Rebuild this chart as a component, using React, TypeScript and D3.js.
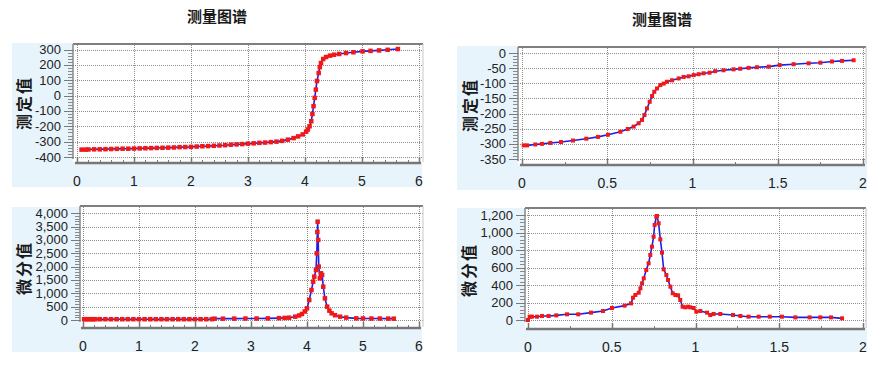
import React, { useEffect, useRef } from 'react';
import * as d3 from 'd3';

// left sample: measured curve (mV vs mL)
const leftVolume = [0.08, 0.15, 0.2, 0.3, 0.4, 0.5, 0.6, 0.7, 0.8, 0.9, 1.0, 1.1, 1.2, 1.3, 1.4, 1.5, 1.6, 1.7, 1.8, 1.9, 2.0, 2.1, 2.2, 2.3, 2.4, 2.5, 2.6, 2.7, 2.8, 2.9, 3.0, 3.1, 3.2, 3.3, 3.4, 3.5, 3.6, 3.7, 3.8, 3.88, 3.96, 4.02, 4.05, 4.08, 4.11, 4.13, 4.15, 4.17, 4.19, 4.21, 4.24, 4.26, 4.28, 4.32, 4.37, 4.44, 4.51, 4.6, 4.72, 4.85, 5.01, 5.15, 5.3, 5.45, 5.63];
const leftMeasured = [-352, -352, -351, -350, -350, -349, -348, -347, -346, -346, -345, -344, -343, -342, -341, -340, -339, -338, -336, -335, -334, -332, -330, -329, -327, -325, -323, -320, -318, -316, -313, -311, -308, -306, -303, -300, -295, -287, -277, -266, -253, -235, -221, -200, -167, -120, -69, -15, 39, 95, 147, 185, 212, 238, 251, 260, 266, 271, 277, 282, 288, 291, 294, 298, 303];

// left sample: differential curve
const leftDiffVolume = [0.02, 0.06, 0.1, 0.14, 0.18, 0.22, 0.3, 0.4, 0.5, 0.6, 0.7, 0.8, 0.9, 1.0, 1.1, 1.2, 1.3, 1.4, 1.5, 1.6, 1.7, 1.8, 1.9, 2.0, 2.1, 2.2, 2.3, 2.35, 2.5, 2.7, 2.9, 3.1, 3.3, 3.5, 3.6, 3.68, 3.79, 3.86, 3.91, 3.96, 4.0, 4.04, 4.08, 4.11, 4.13, 4.16, 4.175, 4.185, 4.19, 4.2, 4.21, 4.23, 4.25, 4.27, 4.29, 4.32, 4.36, 4.4, 4.44, 4.5, 4.59, 4.7, 4.88, 5.0, 5.15, 5.3, 5.45, 5.55];
const leftDiff = [30, 30, 30, 30, 30, 30, 30, 30, 30, 30, 30, 30, 30, 30, 30, 30, 30, 30, 30, 30, 30, 30, 30, 30, 30, 30, 32, 50, 50, 52, 54, 56, 60, 70, 78, 87, 125, 170, 225, 320, 437, 750, 1125, 1437, 1625, 1875, 2500, 3300, 3686, 3000, 2000, 1562, 1750, 1687, 1250, 812, 500, 350, 250, 180, 125, 90, 62, 58, 55, 55, 52, 50];

// right sample: measured curve
const rightVolume = [0.01, 0.03, 0.078, 0.117, 0.166, 0.229, 0.299, 0.377, 0.446, 0.504, 0.577, 0.62, 0.655, 0.684, 0.704, 0.718, 0.733, 0.749, 0.763, 0.776, 0.792, 0.811, 0.831, 0.85, 0.88, 0.919, 0.948, 0.977, 1.007, 1.036, 1.065, 1.1, 1.133, 1.182, 1.241, 1.28, 1.329, 1.378, 1.447, 1.511, 1.593, 1.681, 1.75, 1.818, 1.877, 1.945];
const rightMeasured = [-305, -305, -302, -300, -297, -294, -289, -283, -277, -270, -260, -251, -243, -232, -221, -205, -183, -161, -142, -128, -117, -106, -101, -95, -90, -84, -79, -77, -73, -70, -67, -65, -60, -57, -54, -52, -49, -47, -45, -40, -37, -34, -32, -28, -26, -24];

// right sample: differential curve
const rightDiffVolume = [0, 0.01, 0.024, 0.054, 0.084, 0.123, 0.169, 0.233, 0.3, 0.376, 0.448, 0.501, 0.577, 0.615, 0.627, 0.641, 0.661, 0.671, 0.681, 0.691, 0.706, 0.72, 0.73, 0.74, 0.75, 0.756, 0.766, 0.77, 0.78, 0.79, 0.8, 0.81, 0.826, 0.836, 0.85, 0.864, 0.88, 0.896, 0.909, 0.923, 0.939, 0.955, 0.969, 0.989, 1.005, 1.029, 1.069, 1.088, 1.108, 1.148, 1.224, 1.268, 1.317, 1.377, 1.443, 1.516, 1.596, 1.681, 1.745, 1.809, 1.875];
const rightDiff = [0, 38, 38, 38, 46, 46, 53, 65, 65, 84, 103, 137, 164, 190, 255, 286, 312, 362, 419, 476, 571, 648, 743, 838, 952, 1086, 1181, 1189, 1105, 922, 770, 579, 514, 457, 381, 305, 286, 282, 229, 152, 145, 152, 145, 137, 95, 103, 84, 57, 69, 69, 57, 46, 38, 38, 38, 38, 30, 30, 30, 30, 19];

// tick values
const leftXTicks = [0, 1, 2, 3, 4, 5, 6];
const rightXTicks = [0, 0.5, 1, 1.5, 2];
const leftMeasuredTicks = [300, 200, 100, 0, -100, -200, -300, -400];
const leftDiffTicks = [0, 500, 1000, 1500, 2000, 2500, 3000, 3500, 4000];
const rightMeasuredTicks = [0, -50, -100, -150, -200, -250, -300, -350];
const rightDiffTicks = [0, 200, 400, 600, 800, 1000, 1200];

const chartTitle = '测量图谱';
const measuredLabel = '测定值';
const diffLabel = '微分值';

const fmt = d3.formatLocale({ decimal: '.', thousands: ',', grouping: [3], currency: ['', ''], minus: '-' }).format(',');

const panels = [
    { xs: leftVolume, ys: leftMeasured, xTicks: leftXTicks, xMinor: 0.2, yTicks: leftMeasuredTicks, yMinor: 20, label: measuredLabel,
      bg: [12, 43, 422, 187], frame: [73, 44, 423], xRange: [77, 419], yRange: [157, 49.5], axisY: 163, labelPos: [24, 103], marker: 4.5 },
    { xs: leftDiffVolume, ys: leftDiff, xTicks: leftXTicks, xMinor: 0.2, yTicks: leftDiffTicks, yMinor: 100, label: diffLabel,
      bg: [12, 207, 422, 352], frame: [80, 206, 423], xRange: [83, 419], yRange: [320, 213.3], axisY: 328, labelPos: [24, 268], marker: 4.5 },
    { xs: rightVolume, ys: rightMeasured, xTicks: rightXTicks, xMinor: 0.25, yTicks: rightMeasuredTicks, yMinor: 10, label: measuredLabel,
      bg: [457, 46, 867, 190], frame: [518, 47, 866], xRange: [522, 863], yRange: [159, 53], axisY: 165, labelPos: [470, 105], marker: 4 },
    { xs: rightDiffVolume, ys: rightDiff, xTicks: rightXTicks, xMinor: 0.25, yTicks: rightDiffTicks, yMinor: 40, label: diffLabel,
      bg: [457, 208, 867, 352], frame: [525, 208, 866], xRange: [528, 863], yRange: [320, 215], axisY: 329, labelPos: [469, 270], marker: 4 },
];

const App = () => {
    const chartRef = useRef(null);

    useEffect(() => {
        drawChart();
    }, []);

    const drawChart = () => {
        const svg = d3.select(chartRef.current);
        svg.selectAll('*').remove();

        svg.append('rect').attr('width', 888).attr('height', 370).attr('fill', '#fff');

        // titles
        [[217, 22], [662, 25]].forEach(([x, y]) => {
            svg.append('text')
                .attr('x', x).attr('y', y)
                .attr('text-anchor', 'middle')
                .attr('font-size', 15).attr('font-weight', 'bold')
                .attr('font-family', '"Noto Sans CJK SC", sans-serif')
                .attr('fill', '#1a1a1a')
                .text(chartTitle);
        });

        panels.forEach(p => {
            const g = svg.append('g');
            const [bx0, by0, bx1, by1] = p.bg;
            const [fl, ft, fr] = p.frame;

            const yMin = d3.min(p.yTicks);
            const yMax = d3.max(p.yTicks);
            const xMax = d3.max(p.xTicks);
            const x = d3.scaleLinear().domain([0, xMax]).range(p.xRange);
            const y = d3.scaleLinear().domain([yMin, yMax]).range(p.yRange);

            g.append('rect')
                .attr('x', bx0).attr('y', by0)
                .attr('width', bx1 - bx0).attr('height', by1 - by0)
                .attr('fill', '#e8f4fc');

            g.append('rect')
                .attr('x', fl).attr('y', ft)
                .attr('width', fr - fl).attr('height', p.axisY - ft - 1)
                .attr('fill', '#fff');

            // grid
            g.selectAll('.vgrid')
                .data(p.xTicks)
                .enter()
                .append('line')
                .attr('x1', d => Math.round(x(d)) + 0.5).attr('x2', d => Math.round(x(d)) + 0.5)
                .attr('y1', ft + 1).attr('y2', p.axisY - 1)
                .attr('stroke', '#8c8c8c').attr('stroke-width', 1)
                .attr('stroke-dasharray', '1,1');

            g.selectAll('.hgrid')
                .data(p.yTicks)
                .enter()
                .append('line')
                .attr('x1', fl).attr('x2', fr)
                .attr('y1', d => Math.round(y(d)) + 0.5).attr('y2', d => Math.round(y(d)) + 0.5)
                .attr('stroke', '#8c8c8c').attr('stroke-width', 1)
                .attr('stroke-dasharray', '1,1');

            // frame
            g.append('line')
                .attr('x1', fl).attr('x2', fr)
                .attr('y1', ft).attr('y2', ft)
                .attr('stroke', '#7f7f7f').attr('stroke-width', 2);
            g.append('line')
                .attr('x1', fr).attr('x2', fr)
                .attr('y1', ft).attr('y2', p.axisY - 1)
                .attr('stroke', '#c8c8c8').attr('stroke-width', 1);

            // y axis
            g.append('line')
                .attr('x1', fl).attr('x2', fl)
                .attr('y1', ft).attr('y2', y(yMin) + 2)
                .attr('stroke', '#8a8a8a').attr('stroke-width', 1.5);

            const yMinorTicks = d3.range(yMin, yMax + 0.001, p.yMinor);
            g.selectAll('.yminor')
                .data(yMinorTicks)
                .enter()
                .append('line')
                .attr('x1', fl - 5).attr('x2', fl)
                .attr('y1', d => Math.round(y(d)) + 0.5).attr('y2', d => Math.round(y(d)) + 0.5)
                .attr('stroke', '#8a8a8a').attr('stroke-width', 1);

            g.selectAll('.ymajor')
                .data(p.yTicks)
                .enter()
                .append('line')
                .attr('x1', fl - 9).attr('x2', fl)
                .attr('y1', d => Math.round(y(d)) + 0.5).attr('y2', d => Math.round(y(d)) + 0.5)
                .attr('stroke', '#7a7a7a').attr('stroke-width', 1);

            g.selectAll('.ylabel')
                .data(p.yTicks)
                .enter()
                .append('text')
                .attr('x', fl - 12)
                .attr('y', d => y(d) + 4.5)
                .attr('text-anchor', 'end')
                .attr('font-size', 13)
                .attr('font-family', '"Liberation Sans", Arial, sans-serif')
                .attr('fill', '#222')
                .text(d => fmt(d));

            // x axis
            g.append('line')
                .attr('x1', p.xRange[0] - 2).attr('x2', p.xRange[1] + 2)
                .attr('y1', p.axisY).attr('y2', p.axisY)
                .attr('stroke', '#777').attr('stroke-width', 2.5);

            const xMinorTicks = d3.range(0, xMax + 0.001, p.xMinor);
            g.selectAll('.xminor')
                .data(xMinorTicks)
                .enter()
                .append('line')
                .attr('x1', d => Math.round(x(d)) + 0.5).attr('x2', d => Math.round(x(d)) + 0.5)
                .attr('y1', p.axisY - 3).attr('y2', p.axisY)
                .attr('stroke', '#777').attr('stroke-width', 1);

            g.selectAll('.xmajor')
                .data(p.xTicks)
                .enter()
                .append('line')
                .attr('x1', d => Math.round(x(d)) + 0.5).attr('x2', d => Math.round(x(d)) + 0.5)
                .attr('y1', p.axisY - 6).attr('y2', p.axisY)
                .attr('stroke', '#777').attr('stroke-width', 1.5);

            g.selectAll('.xlabel')
                .data(p.xTicks)
                .enter()
                .append('text')
                .attr('x', d => x(d))
                .attr('y', p.axisY + 23)
                .attr('text-anchor', 'middle')
                .attr('font-size', 14)
                .attr('font-family', '"Liberation Sans", Arial, sans-serif')
                .attr('fill', '#222')
                .text(d => String(d));

            // axis title
            g.append('text')
                .attr('transform', `translate(${p.labelPos[0] + 6}, ${p.labelPos[1]}) rotate(-90)`)
                .attr('text-anchor', 'middle')
                .attr('font-size', 16).attr('font-weight', 'bold')
                .attr('letter-spacing', 2)
                .attr('font-family', '"Noto Sans CJK SC", sans-serif')
                .attr('fill', '#1a1a1a')
                .text(p.label);

            // series
            const pts = p.xs.map((v, i) => [v, p.ys[i]]);
            const line = d3.line().x(d => x(d[0])).y(d => y(d[1]));

            g.append('path')
                .attr('d', line(pts))
                .attr('fill', 'none')
                .attr('stroke', '#1e1ee6')
                .attr('stroke-width', 1.6);

            g.selectAll('.marker')
                .data(pts)
                .enter()
                .append('rect')
                .attr('x', d => x(d[0]) - p.marker / 2)
                .attr('y', d => y(d[1]) - p.marker / 2)
                .attr('width', p.marker).attr('height', p.marker)
                .attr('fill', '#f01818');
        });
    };

    return <svg ref={chartRef} width="888" height="370" style={{ position: 'absolute', left: 0, top: 0 }} />;
};

export default App;
